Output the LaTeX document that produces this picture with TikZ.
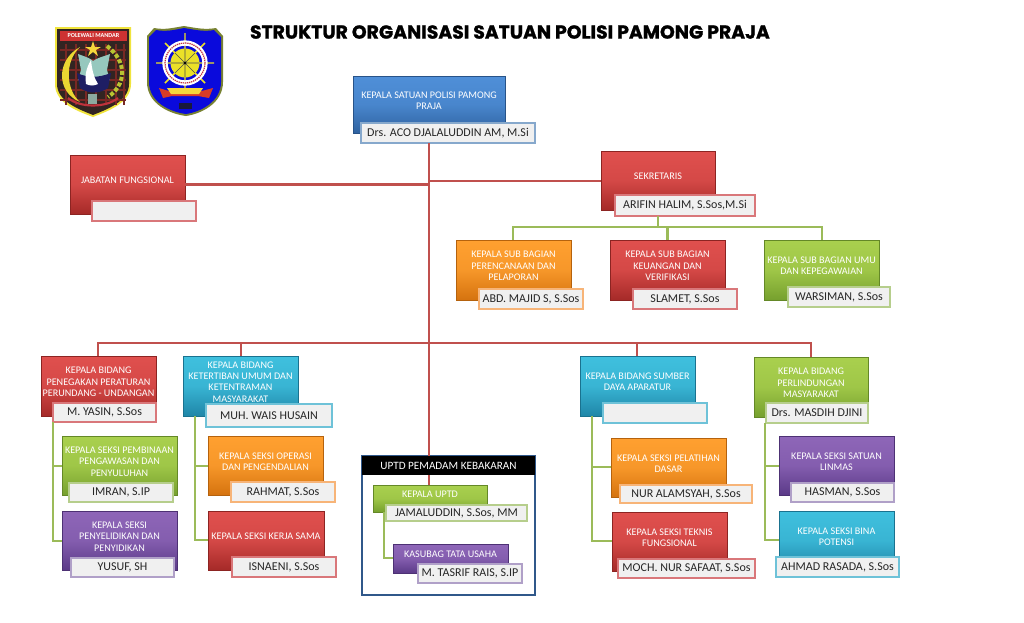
\documentclass[tikz,border=0pt]{standalone}
\usepackage{fontspec}
\setmainfont{Carlito}
\newfontfamily\titlefont{Poppins}[BoldFeatures={FakeBold=1.2}]
\usetikzlibrary{shadows,calc}
\definecolor{redT}{HTML}{E0504E}\definecolor{redB}{HTML}{A52A28}\definecolor{redL}{HTML}{D9777A}
\definecolor{orT}{HTML}{FFA030}\definecolor{orB}{HTML}{D5730F}\definecolor{orL}{HTML}{F7B478}
\definecolor{grT}{HTML}{A9D04E}\definecolor{grB}{HTML}{76A02E}\definecolor{grL}{HTML}{B6CE8C}
\definecolor{blT}{HTML}{3FC0DE}\definecolor{blB}{HTML}{1F86A8}\definecolor{blL}{HTML}{6EC2D8}
\definecolor{puT}{HTML}{8E66B8}\definecolor{puB}{HTML}{5B3A88}\definecolor{puL}{HTML}{B0A0C8}
\definecolor{dbT}{HTML}{4F8FD8}\definecolor{dbB}{HTML}{2F62A0}\definecolor{dbL}{HTML}{86A8CC}
\definecolor{redline}{HTML}{C0504D}\definecolor{grline}{HTML}{9BBB59}\definecolor{frame}{HTML}{30588A}
\definecolor{la}{RGB}{240,228,60}\definecolor{lb}{RGB}{50,36,34}\definecolor{lc}{RGB}{120,40,36}
\definecolor{ld}{RGB}{205,50,50}\definecolor{le}{RGB}{235,215,50}\definecolor{lf}{RGB}{185,195,50}
\definecolor{lg}{RGB}{245,215,60}\definecolor{lh}{RGB}{150,200,190}\definecolor{li}{RGB}{30,30,100}
\definecolor{lj}{RGB}{140,170,160}\definecolor{lk}{RGB}{120,130,50}\definecolor{ll}{RGB}{10,10,220}
\definecolor{lm}{RGB}{235,225,40}\definecolor{ln}{RGB}{190,50,60}\definecolor{lo}{RGB}{215,60,40}
\definecolor{lp}{RGB}{25,25,60}
\tikzset{
 x=0.75pt,y=-0.75pt,
 every node/.style={inner sep=0pt,outer sep=0pt,align=center},
 orgshadow/.style={general shadow={fill=black,opacity=.22,shift={(1.2pt,-1.2pt)}}},
 orgbox/.style={anchor=north west,orgshadow,top color=#1T,bottom color=#1B,middle color=#1T!80!#1B,draw=#1B!85!black,line width=.3pt},
 orgtext/.style={text=white,font=\fontsize{7.6}{8.5}\selectfont},
 namebox/.style={anchor=north west,orgshadow,fill=black!6,draw=#1L,line width=.85pt,text=black!85,font=\fontsize{9}{11}\selectfont},
 redconn/.style={draw=redline,line width=1.7pt},
 grconn/.style={draw=grline,line width=1.7pt},
}
\newcommand{\bx}[7]{\node[orgbox=#6,minimum width=#4*.75pt-#2*.75pt,minimum height=#5*.75pt-#3*.75pt] (#1) at (#2,#3) {};
 \node[orgtext,yshift=3pt] (#1t) at (#1.center) {#7};}
\newcommand{\nb}[7]{\node[namebox=#6,minimum width=#4*.75pt-#2*.75pt,minimum height=#5*.75pt-#3*.75pt] (#1) at (#2,#3) {#7};}
\begin{document}
\begin{tikzpicture}
\useasboundingbox (0,0) rectangle (1024,622);
\fill[white] (0,0) rectangle (1024,622);
% title
\node[anchor=west,font=\titlefont\bfseries\fontsize{14.1}{15}\selectfont,text=black] (title) at (250,32) {STRUKTUR ORGANISASI SATUAN POLISI PAMONG PRAJA};
% logo 1
\path[fill=la] (55,27) -- (131,27) -- (131,84) .. controls (131,104) and (105,112) .. (93,117) .. controls (80,112) and (55,104) .. (55,84) -- cycle;
\path[fill=lb] (57,29) -- (129,29) -- (129,84) .. controls (129,102) and (105,110) .. (93,115) .. controls (81,110) and (57,102) .. (57,84) -- cycle;
\foreach \xx in {66,76,86,96,106,116,124}{\draw[lc,line width=.8pt] (\xx,44) -- (\xx,105);}
\foreach \yy in {50,60,70,80,90,100}{\draw[lc,line width=.8pt] (60,\yy) -- (126,\yy);}
\fill[ld] (60,31) rectangle (127,41);
\node[text=white,font=\bfseries\fontsize{4.6}{5}\selectfont] (logoname) at (93.5,36) {POLEWALI MANDAR};
\fill[le] (80,47) .. controls (56,60) and (56,92) .. (80,102) .. controls (66,90) and (64,62) .. (80,47) -- cycle;
\draw[lf,line width=3pt,dash pattern=on 3pt off 1.5pt] (107,46) .. controls (128,62) and (126,85) .. (108,97);
\fill[lg] (93,41) -- (95,47) -- (101,47) -- (96,50) -- (98,56) -- (93,52) -- (88,56) -- (90,50) -- (85,47) -- (91,47) -- cycle;
\fill[lh] (78,54) .. controls (86,57) and (90,58) .. (93,61) .. controls (97,58) and (102,57) .. (110,54) -- (107,70) -- (110,80) -- (78,80) -- (81,70) -- cycle;
\fill[li] (77,73) .. controls (88,78) and (98,78) .. (111,73) -- (108,88) .. controls (100,94) and (88,94) .. (80,88) -- cycle;
\fill[white] (91,60) .. controls (85,70) and (85,78) .. (86,84) .. controls (90,86) and (94,86) .. (98,84) .. controls (94,78) and (92,70) .. (91,60) -- cycle;
\fill[lj] (88,94) rectangle (97,104);
\draw[ln,line width=1.6pt] (68,98) .. controls (80,108) and (106,108) .. (118,98);
% logo 2
\path[fill=lk] (154,28) .. controls (165,30) and (172,28) .. (184,26) .. controls (196,28) and (205,30) .. (216,28) -- (223,36) -- (223,82) .. controls (223,104) and (200,114) .. (186,116) .. controls (170,114) and (147,104) .. (147,82) -- (147,36) -- cycle;
\path[fill=ll] (156,30) .. controls (166,32) and (174,30) .. (184,28) .. controls (196,30) and (205,32) .. (214,30) -- (221,37) -- (221,82) .. controls (221,102) and (200,112) .. (186,114) .. controls (170,112) and (149,102) .. (149,82) -- (149,37) -- cycle;
\draw[lm,line width=1.1pt] (185,33) -- (185,91) (156,63) -- (214,63) (165,43) -- (205,83) (205,43) -- (165,83);
\draw[white,line width=4pt] (185,63) circle[radius=20*.75pt];
\draw[ln,line width=.9pt,dash pattern=on 1pt off .6pt] (185,63) circle[radius=20*.75pt];
\fill[lm] (185,63) circle[radius=14.5*.75pt];
\draw[black!70,line width=.4pt] (185,49) -- (185,77) (171,63) -- (199,63) (175,53) -- (195,73) (195,53) -- (175,73);
\fill[black] (185,63) circle[radius=1pt];
\fill[lo] (159,88) -- (172,92) -- (198,92) -- (213,88) -- (209,98) -- (198,96) -- (172,96) -- (163,98) -- cycle;
\fill[lg] (167,88) -- (203,88) -- (199,94) -- (171,94) -- cycle;
\fill[lp] (179,103) rectangle (192,109);
% UPTD frame
\node[anchor=north west,draw=frame,line width=1.5pt,fill=white,minimum width=173*.75pt,minimum height=139*.75pt] (uptdframe) at (362,456) {};
\node[anchor=north west,fill=black,text=white,font=\fontsize{8.4}{10}\selectfont,minimum width=173*.75pt,minimum height=19*.75pt] (uptdhead) at (362,456) {UPTD PEMADAM KEBAKARAN};
% boxes
\bx{kasat}{353}{76}{505}{133}{db}{KEPALA SATUAN POLISI PAMONG\\PRAJA}
\nb{kasatn}{361}{123}{535}{143}{db}{Drs. ACO DJALALUDDIN AM, M.Si}
\bx{jab}{70}{155}{185}{214}{red}{JABATAN FUNGSIONAL}
\nb{jabn}{92}{201}{196}{221}{red}{}
\bx{sek}{601}{151}{715}{210}{red}{SEKRETARIS}
\nb{sekn}{615}{195}{755}{216}{red}{ARIFIN HALIM, S.Sos,M.Si}
\bx{suba}{456}{240}{571}{300}{or}{KEPALA SUB BAGIAN\\PERENCANAAN DAN\\PELAPORAN}
\nb{suban}{479}{289}{583}{309}{or}{ABD. MAJID S, S.Sos}
\bx{subb}{610}{240}{725}{300}{red}{KEPALA SUB BAGIAN\\KEUANGAN DAN\\VERIFIKASI}
\nb{subbn}{633}{289}{737}{309}{red}{SLAMET, S.Sos}
\bx{subc}{764}{240}{879}{300}{gr}{KEPALA SUB BAGIAN UMU\\DAN KEPEGAWAIAN}
\nb{subcn}{788}{287}{890}{307}{gr}{WARSIMAN, S.Sos}
\bx{bida}{41}{356}{156}{416}{red}{KEPALA BIDANG\\PENEGAKAN PERATURAN\\PERUNDANG - UNDANGAN}
\nb{bidan}{53}{403}{156}{422}{red}{M. YASIN, S.Sos}
\bx{bidb}{183}{356}{298}{416}{bl}{KEPALA BIDANG\\KETERTIBAN UMUM DAN\\KETENTRAMAN\\MASYARAKAT}
\nb{bidbn}{206}{404}{332}{427}{bl}{MUH. WAIS HUSAIN}
\bx{bidc}{580}{356}{695}{416}{bl}{KEPALA BIDANG SUMBER\\DAYA APARATUR}
\nb{bidcn}{603}{403}{707}{423}{bl}{}
\bx{bidd}{754}{357}{868}{417}{gr}{KEPALA BIDANG\\PERLINDUNGAN\\MASYARAKAT}
\nb{biddn}{766}{403}{868}{423}{gr}{Drs. MASDIH DJINI}
\bx{sa}{62}{436}{177}{495}{gr}{KEPALA SEKSI PEMBINAAN\\PENGAWASAN DAN\\PENYULUHAN}
\nb{san}{69}{483}{173}{502}{gr}{IMRAN, S.IP}
\bx{sb}{62}{511}{177}{570}{pu}{KEPALA SEKSI\\PENYELIDIKAN DAN\\PENYIDIKAN}
\nb{sbn}{71}{558}{174}{577}{pu}{YUSUF, SH}
\bx{sc}{208}{436}{323}{495}{or}{KEPALA SEKSI OPERASI\\DAN PENGENDALIAN}
\nb{scn}{231}{482}{335}{502}{or}{RAHMAT, S.Sos}
\bx{sd}{208}{511}{324}{570}{red}{KEPALA SEKSI KERJA SAMA}
\nb{sdn}{232}{557}{336}{577}{red}{ISNAENI, S.Sos}
\bx{se}{611}{438}{726}{497}{or}{KEPALA SEKSI PELATIHAN\\DASAR}
\nb{sen}{620}{485}{752}{503}{or}{NUR ALAMSYAH, S.Sos}
\bx{sf}{612}{512}{727}{571}{red}{KEPALA SEKSI TEKNIS\\FUNGSIONAL}
\nb{sfn}{618}{559}{755}{578}{red}{MOCH. NUR SAFAAT, S.Sos}
\bx{sg}{779}{436}{894}{495}{pu}{KEPALA SEKSI SATUAN\\LINMAS}
\nb{sgn}{791}{483}{894}{502}{pu}{HASMAN, S.Sos}
\bx{sh}{779}{511}{894}{570}{bl}{KEPALA SEKSI BINA\\POTENSI}
\nb{shn}{776}{557}{899}{577}{bl}{AHMAD RASADA, S.Sos}
\bx{ua}{373}{485}{487}{512}{gr}{KEPALA UPTD}
\nb{uan}{386}{505}{527}{521}{gr}{JAMALUDDIN, S.Sos, MM}
\bx{ub}{393}{544}{508}{573}{pu}{KASUBAG TATA USAHA}
\nb{ubn}{418}{564}{522}{583}{pu}{M. TASRIF RAIS, S.IP}
% junctions
\coordinate (tj) at (429,184.5);
\coordinate (tk) at (429,181);
\coordinate (tr) at (429,343);
\coordinate (gs) at (658,227);
\coordinate (ra) at (98,343);
\coordinate (rb) at (241,343);
\coordinate (rc) at (637,343);
\coordinate (rd) at (811,343);
\coordinate (ga) at (513,227);
\coordinate (gb) at (667.5,227);
\coordinate (gc) at (822,227);
\coordinate (ja1) at (53,466);
\coordinate (ja2) at (53,541);
\coordinate (jb1) at (195,466);
\coordinate (jb2) at (195,540);
\coordinate (jc1) at (592,467);
\coordinate (jc2) at (592,541);
\coordinate (jd1) at (765,466);
\coordinate (jd2) at (765,540);
\coordinate (ju) at (384,558);
% connectors
\draw[redconn] (tr |- kasatn.south) -- (tr |- uptdhead.north);
\draw[redconn] (tr |- uptdhead.south) -- (tr |- ua.north);
\draw[redconn] (tj) -- (tj -| jab.east);
\draw[redconn] (tk) -- (tk -| sek.west);
\draw[redconn] (ra |- bida.north) -- (ra) -- (rd) -- (rd |- bidd.north);
\draw[redconn] (rb) -- (rb |- bidb.north);
\draw[redconn] (rc) -- (rc |- bidc.north);
\draw[grconn] (gs |- sekn.south) -- (gs);
\draw[grconn] (ga |- suba.north) -- (ga) -- (gc) -- (gc |- subc.north);
\draw[grconn] (gb) -- (gb |- subb.north);
\draw[grconn] (ja2 |- bidan.south) -- (ja2) -- (ja2 -| sb.west);
\draw[grconn] (ja1) -- (ja1 -| sa.west);
\draw[grconn] (jb2 |- bidb.south) -- (jb2) -- (jb2 -| sd.west);
\draw[grconn] (jb1) -- (jb1 -| sc.west);
\draw[grconn] (jc2 |- bidc.south) -- (jc2) -- (jc2 -| sf.west);
\draw[grconn] (jc1) -- (jc1 -| se.west);
\draw[grconn] (jd2 |- biddn.south) -- (jd2) -- (jd2 -| sh.west);
\draw[grconn] (jd1) -- (jd1 -| sg.west);
\draw[grconn] (ju |- ua.south) -- (ju) -- (ju -| ub.west);
\end{tikzpicture}
\end{document}
